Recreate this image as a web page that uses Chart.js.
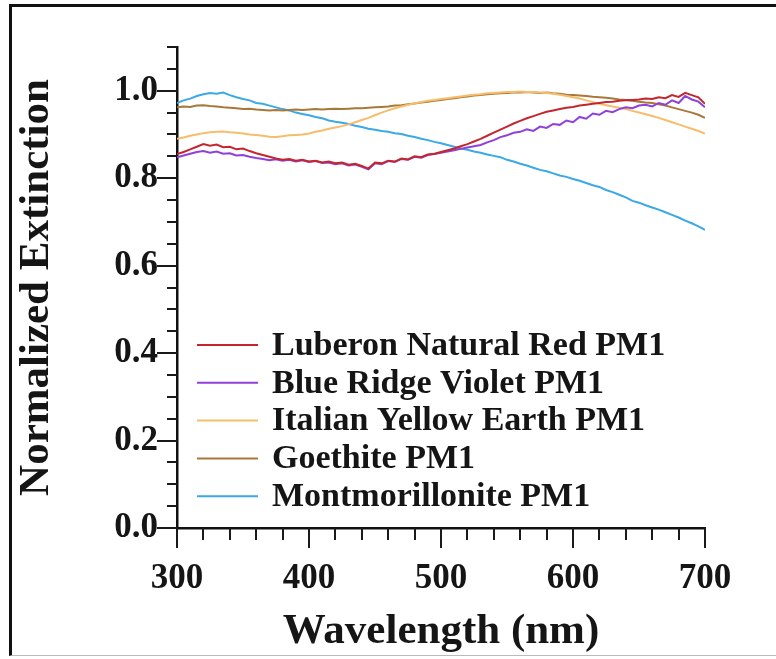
<!DOCTYPE html>
<html>
<head>
<meta charset="utf-8">
<script src="https://cdn.jsdelivr.net/npm/chart.js@4.4.1/dist/chart.umd.min.js"></script>
<style>
  html, body { margin: 0; padding: 0; background: #fff; overflow: hidden; }
  #wrap { position: relative; width: 776px; height: 659px; }
  #chart { position: absolute; left: 0; top: 0; }
  #frame { position: absolute; left: 9px; top: 4px; right: -5px; bottom: 3px;
           border-left: 3px solid #111; border-top: 3px solid #111; border-bottom: 1px solid #bbb;
           pointer-events: none; }
</style>
</head>
<body>
<div id="wrap">
  <canvas id="chart" width="776" height="659"></canvas>
  <div id="frame"></div>
</div>
<script>
// Wavelength (nm)
const wavelengths = [300, 305, 310, 315, 320, 325, 330, 335, 340, 345, 350, 355, 360, 365, 370, 375, 380, 385, 390, 395,
    400, 405, 410, 415, 420, 425, 430, 435, 440, 445, 450, 455, 460, 465, 470, 475, 480, 485, 490, 495,
    500, 505, 510, 515, 520, 525, 530, 535, 540, 545, 550, 555, 560, 565, 570, 575, 580, 585, 590, 595,
    600, 605, 610, 615, 620, 625, 630, 635, 640, 645, 650, 655, 660, 665, 670, 675, 680, 685, 690, 695, 700];

const seriesNames = ['Luberon Natural Red PM1', 'Blue Ridge Violet PM1', 'Italian Yellow Earth PM1', 'Goethite PM1', 'Montmorillonite PM1'];
const seriesColors = ['#c4262e', '#9040d8', '#f6bd6a', '#a8783a', '#3aa9e6'];

const luberonRed = [0.855, 0.860, 0.866, 0.872, 0.878, 0.874, 0.877, 0.871, 0.872, 0.866, 0.868, 0.862, 0.857, 0.853, 0.849, 0.845, 0.842, 0.844, 0.840, 0.842,
    0.838, 0.840, 0.836, 0.838, 0.834, 0.836, 0.831, 0.833, 0.828, 0.822, 0.836, 0.834, 0.840, 0.838, 0.845, 0.843, 0.850, 0.848, 0.854, 0.856,
    0.860, 0.864, 0.868, 0.873, 0.878, 0.884, 0.890, 0.897, 0.904, 0.911, 0.918, 0.925, 0.931, 0.937, 0.942, 0.947, 0.952, 0.955, 0.958, 0.961,
    0.963, 0.966, 0.968, 0.970, 0.972, 0.974, 0.975, 0.977, 0.978, 0.979, 0.980, 0.982, 0.981, 0.985, 0.983, 0.990, 0.986, 0.995, 0.990, 0.985, 0.970];

const blueRidgeViolet = [0.848, 0.852, 0.856, 0.860, 0.862, 0.858, 0.861, 0.856, 0.857, 0.852, 0.853, 0.849, 0.846, 0.844, 0.841, 0.843, 0.840, 0.842, 0.838, 0.841,
    0.837, 0.839, 0.835, 0.836, 0.832, 0.834, 0.829, 0.831, 0.826, 0.820, 0.834, 0.832, 0.839, 0.837, 0.844, 0.842, 0.849, 0.847, 0.853, 0.855,
    0.858, 0.861, 0.864, 0.867, 0.870, 0.873, 0.876, 0.882, 0.887, 0.894, 0.898, 0.904, 0.906, 0.912, 0.908, 0.918, 0.915, 0.924, 0.922, 0.932,
    0.928, 0.940, 0.936, 0.948, 0.945, 0.954, 0.951, 0.958, 0.962, 0.960, 0.966, 0.968, 0.964, 0.972, 0.968, 0.978, 0.972, 0.988, 0.980, 0.975, 0.962];

const italianYellow = [0.890, 0.893, 0.897, 0.900, 0.903, 0.905, 0.906, 0.907, 0.905, 0.904, 0.902, 0.900, 0.899, 0.897, 0.895, 0.894, 0.896, 0.898, 0.899, 0.900,
    0.902, 0.906, 0.909, 0.913, 0.916, 0.919, 0.923, 0.928, 0.933, 0.938, 0.944, 0.950, 0.955, 0.960, 0.964, 0.968, 0.971, 0.974, 0.977, 0.979,
    0.981, 0.983, 0.985, 0.987, 0.989, 0.991, 0.992, 0.994, 0.995, 0.996, 0.997, 0.997, 0.998, 0.997, 0.997, 0.996, 0.995, 0.993, 0.991, 0.988,
    0.985, 0.982, 0.978, 0.974, 0.970, 0.967, 0.964, 0.961, 0.958, 0.954, 0.950, 0.946, 0.942, 0.938, 0.933, 0.928, 0.923, 0.918, 0.913, 0.908, 0.902];

const goethite = [0.962, 0.964, 0.963, 0.966, 0.967, 0.965, 0.964, 0.962, 0.961, 0.960, 0.958, 0.959, 0.957, 0.956, 0.955, 0.956, 0.955, 0.956, 0.957, 0.956,
    0.957, 0.958, 0.957, 0.958, 0.959, 0.958, 0.959, 0.960, 0.960, 0.961, 0.962, 0.963, 0.964, 0.966, 0.967, 0.969, 0.971, 0.973, 0.975, 0.977,
    0.979, 0.981, 0.983, 0.985, 0.987, 0.989, 0.990, 0.992, 0.993, 0.994, 0.995, 0.996, 0.996, 0.997, 0.996, 0.995, 0.996, 0.994, 0.993, 0.991,
    0.990, 0.989, 0.988, 0.986, 0.985, 0.984, 0.982, 0.980, 0.979, 0.977, 0.975, 0.973, 0.972, 0.969, 0.966, 0.962, 0.958, 0.954, 0.950, 0.945, 0.938];

const montmorillonite = [0.972, 0.978, 0.982, 0.988, 0.992, 0.995, 0.993, 0.996, 0.990, 0.985, 0.981, 0.978, 0.972, 0.970, 0.966, 0.962, 0.958, 0.955, 0.950, 0.947,
    0.944, 0.940, 0.937, 0.932, 0.929, 0.927, 0.924, 0.920, 0.917, 0.913, 0.911, 0.908, 0.906, 0.903, 0.901, 0.897, 0.894, 0.890, 0.887, 0.883,
    0.880, 0.876, 0.872, 0.868, 0.865, 0.861, 0.858, 0.854, 0.851, 0.848, 0.842, 0.838, 0.833, 0.829, 0.824, 0.819, 0.816, 0.811, 0.806, 0.803,
    0.798, 0.794, 0.789, 0.784, 0.780, 0.773, 0.768, 0.762, 0.756, 0.748, 0.744, 0.738, 0.733, 0.728, 0.722, 0.716, 0.710, 0.703, 0.697, 0.690, 0.682];

const seriesValues = [luberonRed, blueRidgeViolet, italianYellow, goethite, montmorillonite];

const serif = "'Liberation Serif', 'Times New Roman', serif";

// Tick marks: long ones where a label is shown, short ones between
const tickMarks = {
    id: 'tickMarks',
    afterDraw(chart) {
        const ctx = chart.ctx;
        const area = chart.chartArea;
        const xs = chart.scales.x;
        const ys = chart.scales.y;
        ctx.save();
        ctx.strokeStyle = '#1a1a1a';
        ctx.lineWidth = 2;
        ctx.beginPath();
        xs.ticks.forEach(t => {
            const px = Math.round(xs.getPixelForValue(t.value));
            const len = t.label !== '' ? 20 : 12;
            ctx.moveTo(px, area.bottom);
            ctx.lineTo(px, area.bottom + len);
        });
        ys.ticks.forEach(t => {
            const py = Math.round(ys.getPixelForValue(t.value));
            const len = t.label !== '' ? 20 : 10;
            ctx.moveTo(area.left, py);
            ctx.lineTo(area.left - len, py);
        });
        ctx.stroke();
        ctx.restore();
    }
};

// Legend inside the plot, lower left
const innerLegend = {
    id: 'innerLegend',
    afterDraw(chart) {
        const ctx = chart.ctx;
        ctx.save();
        ctx.font = 'bold 34px ' + serif;
        ctx.textBaseline = 'middle';
        chart.data.datasets.forEach((ds, i) => {
            const y = 345 + i * 37.8;
            ctx.strokeStyle = ds.borderColor;
            ctx.lineWidth = 2;
            ctx.beginPath();
            ctx.moveTo(197, y);
            ctx.lineTo(258, y);
            ctx.stroke();
            ctx.fillStyle = '#151515';
            ctx.fillText(ds.label, 272, y + 1);
        });
        ctx.restore();
    }
};

const ctx = document.getElementById('chart').getContext('2d');
const chart = new Chart(ctx, {
    type: 'line',
    data: {
        datasets: seriesNames.map((name, i) => ({
            label: name,
            data: wavelengths.map((w, j) => ({ x: w, y: seriesValues[i][j] })),
            borderColor: seriesColors[i],
            backgroundColor: seriesColors[i],
            borderWidth: 2,
            pointRadius: 0,
            tension: 0,
            fill: false
        }))
    },
    options: {
        responsive: false,
        animation: false,
        events: [],
        layout: { padding: { left: 0, top: 47, right: 71, bottom: 0 } },
        plugins: {
            legend: { display: false },
            tooltip: { enabled: false }
        },
        scales: {
            x: {
                type: 'linear',
                min: 300,
                max: 700,
                afterFit: s => { s.height = 131; },
                border: { display: true, color: '#111', width: 2.5 },
                grid: { display: true, drawOnChartArea: false, drawTicks: true, tickLength: 20, tickColor: 'rgba(0,0,0,0)' },
                ticks: {
                    stepSize: 20,
                    autoSkip: false,
                    maxRotation: 0,
                    padding: 10,
                    color: '#151515',
                    font: { family: serif, size: 35, weight: 'bold' },
                    callback: v => (Math.round(v) % 100 === 0 ? String(Math.round(v)) : '')
                },
                title: {
                    display: true,
                    text: 'Wavelength (nm)',
                    color: '#151515',
                    font: { family: serif, size: 43, weight: 'bold' },
                    padding: { top: 0, bottom: 1 }
                }
            },
            y: {
                min: 0,
                max: 1.1,
                afterFit: s => { s.width = 177; },
                border: { display: true, color: '#111', width: 2.5 },
                grid: { display: true, drawOnChartArea: false, drawTicks: true, tickLength: 18, tickColor: 'rgba(0,0,0,0)' },
                ticks: {
                    stepSize: 0.05,
                    autoSkip: false,
                    padding: 1,
                    color: '#151515',
                    font: { family: serif, size: 35, weight: 'bold' },
                    callback: v => {
                        const r = Math.round(v * 100);
                        return (r % 20 === 0 && r <= 100) ? (r / 100).toFixed(1) : '';
                    }
                },
                title: {
                    display: true,
                    text: 'Normalized Extinction',
                    color: '#151515',
                    font: { family: serif, size: 43, weight: 'bold' },
                    padding: { top: 11, bottom: 0 }
                }
            }
        }
    },
    plugins: [tickMarks, innerLegend]
});
</script>
</body>
</html>
